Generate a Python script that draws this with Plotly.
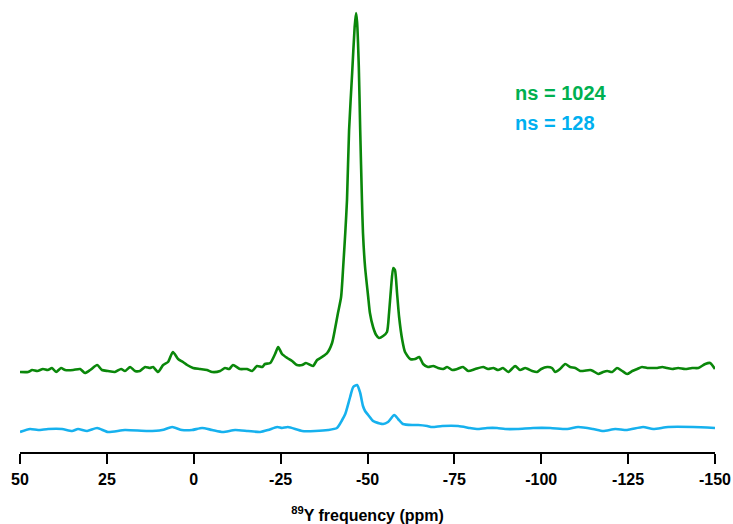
import plotly.graph_objects as go

# ---- data (intensity in arbitrary units) ----
green_ppm = [50, 47.7, 46.5, 45, 43.4, 42, 40.8, 39.6, 38.2, 37, 34.7, 32.7, 31.3, 29.8, 27.8, 26.4,
             24.7, 22.7, 20.9, 19.8, 18.3, 16.9, 15.5, 14, 12.6, 11.7, 10.3, 8.8, 7.4, 6, 4.5, 3.1,
             1.9, 0.2, -1.8, -3.8, -5.3, -7.6, -9, -10.2, -11.3, -13.3, -15.3, -16.8, -18.2, -19.7,
             -20.5, -22, -23.4, -24.3, -25.4, -26.9, -28.3, -29.7, -31.2, -32.3, -34.3, -35.5, -36.9,
             -38.4, -39.8, -40.7, -41.5, -42.4, -43, -43.6, -44.1, -44.7, -45.6, -46.3, -46.7, -47.0,
             -47.5, -47.9, -48.4, -48.7, -49.3, -50.2, -50.7, -51.6, -52.5, -53.3, -54.5, -55.6,
             -56.2, -56.8, -57.4, -57.9, -58.5, -59.1, -60, -60.8, -62.3, -63.7, -64.9, -66.0,
             -67.4, -68.9, -70.3, -71.8, -72.9, -74.4, -75.8, -77.5, -79, -81, -83.3, -84.7, -86.2,
             -87.6, -89, -90.5, -92.5, -93.9, -95.4, -97.4, -98.8, -100, -101.7, -103.1, -104,
             -105.4, -106.9, -108.3, -109.8, -111.2, -114.1, -114.9, -116.4, -117.8, -119, -120.4,
             -121.8, -123.3, -124.7, -126.2, -127.6, -129, -130.5, -131.9, -133.4, -134.8, -136.2,
             -137.7, -139.4, -141.4, -143.4, -145.2, -147.2, -148.6, -150]
green_int = [80, 80, 82, 81, 83, 82, 84, 80, 84, 82, 82, 83, 79, 82, 87, 82,
             81, 80, 83, 81, 85, 81, 81, 85, 84, 85, 80, 87, 90, 100, 93, 90,
             87, 84, 83, 82, 80, 81, 84, 83, 87, 83, 83, 81, 86, 85,
             88, 89, 98, 105, 98, 94, 91, 87, 87, 89, 86, 92, 95,
             99, 109, 124, 139, 155, 185, 219, 252, 322, 380, 425, 439, 430,
             385, 322, 252, 219, 185, 155, 139, 125, 117, 114, 116, 120,
             139, 165, 184, 182, 159, 135, 112, 100, 93, 93, 95, 88,
             85, 86, 84, 83, 85, 82, 83, 85, 81, 83, 85, 83, 84,
             82, 84, 80, 86, 82, 84, 81, 80, 83, 85, 84, 80,
             83, 88, 85, 84, 81, 82, 81, 78, 80, 81, 80,
             84, 81, 78, 81, 83, 85, 84, 84, 84, 85, 84,
             83, 84, 83, 84, 84, 88, 89, 83]

blue_ppm = [50, 47.1, 44.8, 41.9, 37.9, 35, 33.3, 30.7, 27.8, 24.7, 19.8, 13.2, 9.1, 6.2, 3.4, 0.5,
            -2.4, -5.3, -8.4, -11.9, -15.6, -19.1, -21.4, -24, -25.4, -27.1, -31.2, -34.9, -38.7,
            -41.2, -42.7, -43.6, -45, -45.9, -47, -47.9, -48.7, -49.3, -50.2, -51.6, -52.2, -54.5,
            -55.9, -57.7, -58.8, -60.2, -63.1, -64.6, -67.2, -68.6, -71.5, -76.1, -79.5, -81.5,
            -84.4, -87.3, -89.6, -93.1, -97.7, -102.6, -107.5, -110.6, -114.9, -117.8, -121.3,
            -124.7, -129.3, -132.2, -136.5, -143.7, -150]
blue_int = [20, 23, 22, 23, 23, 21, 23, 21, 24, 20, 22, 21, 22, 25, 22, 22,
            24, 22, 20, 22, 21, 20, 22, 25, 24, 25, 21, 21, 22,
            24, 32, 38, 55, 65, 67, 59, 46, 41, 37, 31, 30, 28,
            30, 37, 33, 28, 27, 27, 26, 25, 26, 26, 24, 23,
            24, 24, 23, 23, 24, 24, 23, 25, 23, 21, 23,
            22, 25, 23, 25, 25, 24]

x_ticks = [50, 25, 0, -25, -50, -75, -100, -125, -150]
x_ticklabels = ["50", "25", "0", "-25", "-50", "-75", "-100", "-125", "-150"]

GREEN_LINE = "#0a870a"
BLUE_LINE = "#16b1ee"

fig = go.Figure()
fig.add_trace(go.Scatter(x=green_ppm, y=green_int, mode="lines",
                         line=dict(color=GREEN_LINE, width=2.6, shape="spline", smoothing=0.6),
                         showlegend=False, hoverinfo="skip"))
fig.add_trace(go.Scatter(x=blue_ppm, y=blue_int, mode="lines",
                         line=dict(color=BLUE_LINE, width=2.6, shape="spline", smoothing=0.6),
                         showlegend=False, hoverinfo="skip"))

fig.add_annotation(x=-92, y=359, xref="x", yref="y", xanchor="left", yanchor="middle",
                   text="<b>ns = 1024</b>", showarrow=False,
                   font=dict(family="Liberation Sans, Arial", size=20, color="#00b050"))
fig.add_annotation(x=-92, y=329, xref="x", yref="y", xanchor="left", yanchor="middle",
                   text="<b>ns = 128</b>", showarrow=False,
                   font=dict(family="Liberation Sans, Arial", size=20, color="#00b0f0"))

fig.update_layout(
    width=733, height=524,
    margin=dict(l=20, r=18, t=10, b=72),
    paper_bgcolor="white", plot_bgcolor="white",
    font=dict(family="Liberation Sans, Arial", color="black"),
    xaxis=dict(range=[50, -150], tickmode="array", tickvals=x_ticks, ticktext=x_ticklabels,
               showline=True, linecolor="black", linewidth=2, ticks="outside", ticklen=10,
               tickwidth=2, tickcolor="black", showgrid=False, zeroline=False, automargin=False,
               ticklabelstandoff=2,
               tickfont=dict(size=16, weight="bold", color="black"),
               title=dict(text="<b><sup>89</sup>Y frequency (ppm)</b>",
                          font=dict(size=16, color="black"), standoff=24)),
    yaxis=dict(range=[0, 442], visible=False, showgrid=False, zeroline=False, automargin=False),
)

fig.write_html("out.html", config={"displayModeBar": False},
               post_script="document.body.style.margin='0';document.body.style.overflow='hidden';")
